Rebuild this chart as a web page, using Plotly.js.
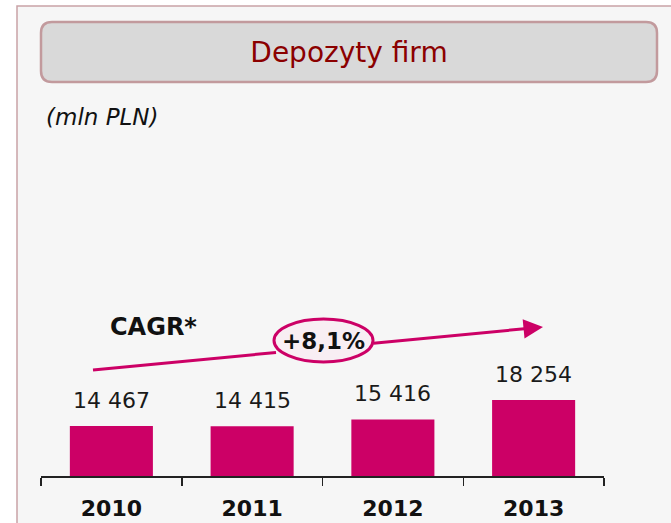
<!DOCTYPE html>
<html>
<head>
<meta charset="utf-8">
<script src="https://cdn.plot.ly/plotly-3.0.1.min.js"></script>
<style>html,body{margin:0;padding:0;background:#fff;}#chart{width:671px;height:523px;}</style>
</head>
<body>
<div id="chart"></div>
<script>
// ---- data ----
const years = ['2010', '2011', '2012', '2013'];
const deposits = [14467, 14415, 15416, 18254];
const valueLabels = ['14 467', '14 415', '15 416', '18 254'];
const cagrLabel = 'CAGR*';
const cagrValue = '+8,1%';
const titleText = 'Depozyty firm';
const unitText = '(mln PLN)';

// ---- layout geometry (pixels) ----
const FW = 671, FH = 523;
const ML = 41, MR = 67, MT = 0, MB = 47;
const PW = FW - ML - MR, PH = FH - MT - MB;
const X = px => (px - ML) / PW;
const Y = py => (FH - MB - py) / PH;

const magenta = '#cc0066';
const font = 'DejaVu Sans, sans-serif';

function roundRectPath(x0, y0, x1, y1, r) {
  const p = (x, y) => X(x) + ',' + Y(y);
  return 'M' + p(x0 + r, y0) + ' L' + p(x1 - r, y0) + ' Q' + p(x1, y0) + ' ' + p(x1, y0 + r) +
    ' L' + p(x1, y1 - r) + ' Q' + p(x1, y1) + ' ' + p(x1 - r, y1) +
    ' L' + p(x0 + r, y1) + ' Q' + p(x0, y1) + ' ' + p(x0, y1 - r) +
    ' L' + p(x0, y0 + r) + ' Q' + p(x0, y0) + ' ' + p(x0 + r, y0) + ' Z';
}

const lineY = x => 370 - 0.0956 * (x - 93);

const trace = {
  type: 'bar',
  x: years,
  y: deposits,
  marker: { color: magenta },
  hoverinfo: 'skip'
};

const annotations = valueLabels.map((t, i) => ({
  x: i, y: deposits[i], xref: 'x', yref: 'y',
  text: t, showarrow: false, yanchor: 'middle', yshift: 26,
  font: { family: font, size: 22, color: '#1a1a1a' }
}));

annotations.push({
  xref: 'paper', yref: 'paper', x: X(44), y: Y(117), xanchor: 'left', yanchor: 'middle',
  text: '<i>' + unitText + '</i>', showarrow: false,
  font: { family: font, size: 23, color: '#111' }
});
annotations.push({
  xref: 'paper', yref: 'paper', x: X(153), y: Y(327), xanchor: 'center', yanchor: 'middle',
  text: '<b>' + cagrLabel + '</b>', showarrow: false,
  font: { family: font, size: 24, color: '#111' }
});
annotations.push({
  xref: 'paper', yref: 'paper', x: X(324), y: Y(341), xanchor: 'center', yanchor: 'middle',
  text: '<b>' + cagrValue + '</b>', showarrow: false,
  font: { family: font, size: 23, color: '#111' }
});
// arrow head part
annotations.push({
  xref: 'paper', yref: 'paper', x: X(543), y: Y(327),
  ax: 372 - 543, ay: lineY(372) - 327,
  text: '', showarrow: true, arrowhead: 2, arrowsize: 1.3, arrowwidth: 3, arrowcolor: magenta
});

const shapes = [
  { type: 'rect', xref: 'paper', yref: 'paper', layer: 'below',
    x0: X(17), y0: Y(6), x1: X(FW + 10), y1: Y(FH + 10),
    fillcolor: '#f6f6f6', line: { color: '#c9a3a6', width: 1.5 } },
  { type: 'path', xref: 'paper', yref: 'paper', layer: 'below',
    path: roundRectPath(41, 22, 657, 82, 11),
    fillcolor: '#d9d9d9', line: { color: '#c29a9d', width: 2.5 } },
  { type: 'line', xref: 'paper', yref: 'paper', layer: 'above',
    x0: X(93), y0: Y(lineY(93)), x1: X(276), y1: Y(lineY(276)),
    line: { color: magenta, width: 3 } },
  { type: 'circle', xref: 'paper', yref: 'paper', layer: 'above',
    x0: X(274), x1: X(373), y0: Y(362), y1: Y(319),
    fillcolor: '#f8eef3', line: { color: magenta, width: 3 } }
];

const layout = {
  width: FW, height: FH,
  margin: { l: ML, r: MR, t: MT, b: MB, pad: 0 },
  paper_bgcolor: '#ffffff',
  plot_bgcolor: 'rgba(0,0,0,0)',
  showlegend: false,
  bargap: 0.41,
  title: {
    text: titleText, xref: 'container', yref: 'container',
    x: 349 / FW, y: 1 - 52 / FH, xanchor: 'center', yanchor: 'middle',
    font: { family: font, size: 28, color: '#8b0000' }
  },
  xaxis: {
    type: 'category', range: [-0.5, 3.5], autorange: false,
    showline: true, linecolor: '#222', linewidth: 1.5,
    ticks: 'outside', tickson: 'boundaries', ticklen: 8, tickwidth: 1.5, tickcolor: '#222',
    showgrid: false, zeroline: false, ticklabelstandoff: 12,
    tickfont: { family: font, size: 22, color: '#111', weight: 'bold' },
    fixedrange: true
  },
  yaxis: {
    visible: false, range: [7184, 76513], autorange: false, showgrid: false, zeroline: false, fixedrange: true
  },
  annotations: annotations,
  shapes: shapes
};

Plotly.newPlot('chart', [trace], layout, { displayModeBar: false, staticPlot: true });
</script>
</body>
</html>
